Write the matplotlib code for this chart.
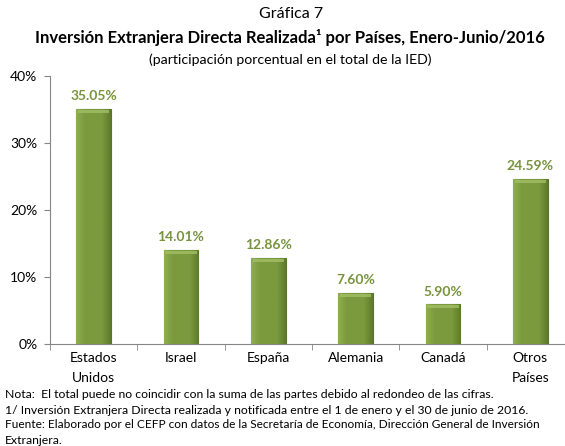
import matplotlib
matplotlib.use("Agg")
import matplotlib.pyplot as plt
import numpy as np
from matplotlib.ticker import FuncFormatter
from matplotlib.colors import LinearSegmentedColormap

plt.rcParams['font.family'] = ['Lato', 'DejaVu Sans']

categories = ["Estados\nUnidos", "Israel", "España", "Alemania", "Canadá", "Otros\nPaíses"]
values = [35.05, 14.01, 12.86, 7.60, 5.90, 24.59]

W, H = 565, 446
fig = plt.figure(figsize=(W/100, H/100), dpi=100)
ax = fig.add_axes([50/W, 1-344/H, 524/W, 268/H])

green = "#77933C"
x = list(range(len(categories)))
bars = ax.bar(x, values, width=0.4, color=green, edgecolor="#5A7330", linewidth=0.8, zorder=3)

# bevel-like shading inside each bar
cmap = LinearSegmentedColormap.from_list("bev", ["#8FAE50", "#7B9A3E", "#7B9A3E", "#7B9A3E", "#5E7A2C"])
grad = np.linspace(0, 1, 64).reshape(1, -1)
for b in bars:
    bx, by = b.get_x(), b.get_y()
    bw, bh = b.get_width(), b.get_height()
    im = ax.imshow(grad, cmap=cmap, aspect="auto", extent=(bx, bx + bw, by, by + bh),
                   zorder=3.1, interpolation="bilinear")
    im.set_clip_path(b)
    # lighter top bevel
    ax.bar(b.get_x() + bw/2, 0.45, width=bw*0.9, bottom=bh - 0.55,
           color="#A3BF67", linewidth=0, zorder=3.2, alpha=0.8)

for xi, v in zip(x, values):
    ax.annotate(f"{v:.2f}%", (xi, v), xytext=(0, 5), textcoords="offset points",
                ha="center", va="bottom", color=green, fontsize=10, fontweight="bold")

ax.set_xlim(-0.5, len(categories) - 0.5)
ax.set_ylim(0, 40)
ax.set_yticks([0, 10, 20, 30, 40])
ax.yaxis.set_major_formatter(FuncFormatter(lambda v, p: f"{v:.0f}%"))
ax.set_xticks(x)
ax.set_xticklabels(categories, fontsize=10, linespacing=1.75)
ax.set_xticks([i + 0.5 for i in range(-1, len(categories))], minor=True)
ax.tick_params(axis="x", which="major", length=0, pad=6)
ax.tick_params(axis="x", which="minor", length=4, color="#868686", direction="out")
ax.tick_params(axis="y", length=4, color="#868686", labelsize=10, pad=5)
for s in ["top", "right"]:
    ax.spines[s].set_visible(False)
for s in ["left", "bottom"]:
    ax.spines[s].set_color("#868686")
    ax.spines[s].set_linewidth(0.8)

fig.text(291/W, 1-14/H, "Gráfica 7", ha="center", va="center", fontsize=11.5)
fig.text(290/W, 1-37/H, "Inversión Extranjera Directa Realizada¹ por Países, Enero-Junio/2016",
         ha="center", va="center", fontsize=12, fontweight="bold")
fig.text(290/W, 1-60/H, "(participación porcentual en el total de la IED)",
         ha="center", va="center", fontsize=10.2)

notes = [
    ("Nota:  El total puede no coincidir con la suma de las partes debido al redondeo de las cifras.", 8.8),
    ("1/ Inversión Extranjera Directa realizada y notificada entre el 1 de enero y el 30 de junio de 2016.", 8.8),
    ("Fuente: Elaborado por el CEFP con datos de la Secretaría de Economía, Dirección General de Inversión", 8.6),
    ("Extranjera.", 8.8),
]
for i, (t, fs) in enumerate(notes):
    fig.text(5/W, 1-(395 + i*15)/H, t, ha="left", va="center", fontsize=fs)

fig.savefig("out.png", dpi=100)
